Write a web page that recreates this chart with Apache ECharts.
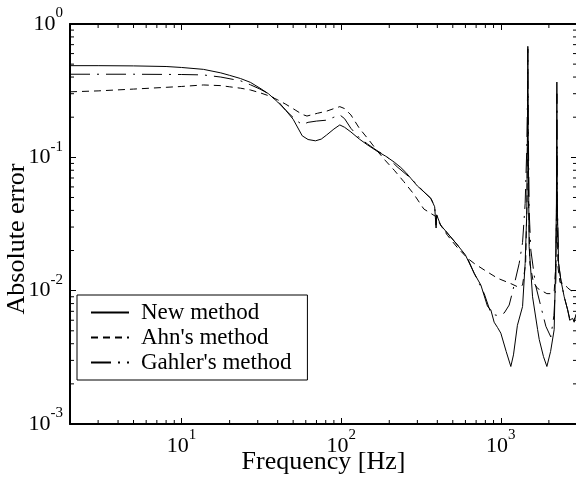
<!DOCTYPE html>
<html>
<head>
<meta charset="utf-8">
<script src="https://cdn.jsdelivr.net/npm/echarts@6/dist/echarts.min.js"></script>
<style>
  html, body { margin: 0; padding: 0; background: #fff; }
  #chart { width: 576px; height: 479px; }
</style>
</head>
<body>
<div id="chart"></div>
<script>
// 数据：频率 [Hz] 与绝对误差
const freqNew = [2, 3, 5, 8, 10, 13.7, 17.6, 20, 23.4, 27, 31, 35, 40, 45, 50, 57, 62, 69, 75, 81,
  90, 98, 105, 115, 130, 146, 170, 190, 215, 236, 254, 273, 300, 330, 364, 385, 391, 393, 396, 420,
  463, 535, 600, 681, 750, 826, 865, 908, 953, 1000, 1080, 1155, 1200, 1270, 1368, 1420, 1455, 1470, 1476, 1484,
  1504, 1580, 1700, 1740, 1850, 1943, 2050, 2158, 2200, 2230, 2244, 2256, 2300, 2377, 2494, 2620, 2700, 2817, 2880, 2950,
  3000]
const errNew = [0.487, 0.487, 0.485, 0.48, 0.472, 0.457, 0.43, 0.412, 0.39, 0.365, 0.33, 0.30, 0.26, 0.225, 0.193, 0.145, 0.136, 0.133, 0.137, 0.147,
  0.163, 0.175, 0.168, 0.155, 0.137, 0.124, 0.11, 0.102, 0.092, 0.084, 0.077, 0.0696, 0.061, 0.055, 0.0493, 0.0426, 0.0415, 0.0295, 0.037, 0.031,
  0.027, 0.022, 0.0185, 0.0135, 0.011, 0.0076, 0.0072, 0.0058, 0.0053, 0.0048, 0.0035, 0.0027, 0.0033, 0.0055, 0.0076, 0.016, 0.04, 0.2, 0.68, 0.15,
  0.0214, 0.009, 0.0051, 0.0043, 0.0032, 0.0027, 0.0035, 0.0051, 0.014, 0.045, 0.367, 0.045, 0.016, 0.012, 0.009, 0.0072, 0.006, 0.0062, 0.0058, 0.0066,
  0.0068]

const freqAhn = [2, 3, 5, 8, 10, 13.7, 17.6, 20, 23.4, 27, 31, 35, 40, 45, 52, 57, 61, 71, 81, 90,
  98, 105, 115, 130, 149, 170, 190, 215, 246, 285, 329, 364, 391, 420, 463, 535, 619, 681, 787, 953,
  1155, 1273, 1368, 1430, 1460, 1476, 1490, 1520, 1600, 1700, 1943, 2056, 2158, 2215, 2238, 2244, 2252, 2280, 2350, 2494,
  2620, 2817, 3000]
const errAhn = [0.31, 0.315, 0.325, 0.335, 0.34, 0.349, 0.345, 0.338, 0.33, 0.32, 0.305, 0.29, 0.27, 0.25, 0.225, 0.21, 0.204, 0.214, 0.222, 0.232,
  0.24, 0.232, 0.208, 0.165, 0.135, 0.11, 0.094, 0.08, 0.066, 0.053, 0.041, 0.038, 0.036, 0.031, 0.026, 0.021, 0.0175, 0.016, 0.0143, 0.0124,
  0.0113, 0.0107, 0.011, 0.016, 0.05, 0.3, 0.05, 0.016, 0.0115, 0.0104, 0.0095, 0.0095, 0.0098, 0.016, 0.05, 0.12, 0.04, 0.015, 0.0115, 0.0113,
  0.0105, 0.0098, 0.0098]

const freqGahler = [2, 5, 10, 13.7, 17.6, 23.4, 27, 31, 35, 40, 45, 52, 57, 62, 70, 81, 90, 98, 105, 115,
  130, 146, 170, 190, 224, 273, 300, 330, 364, 385, 391, 393, 396, 420, 463, 535, 619, 681, 787, 865,
  908, 960, 1050, 1128, 1184, 1303, 1368, 1420, 1455, 1470, 1476, 1484, 1504, 1541, 1650, 1782, 1915, 2056, 2150, 2212,
  2235, 2244, 2256, 2300, 2377, 2494, 2620, 2700, 2817, 2880, 2950, 3000]
const errGahler = [0.42, 0.42, 0.418, 0.415, 0.40, 0.375, 0.35, 0.325, 0.30, 0.265, 0.225, 0.19, 0.176, 0.183, 0.187, 0.19, 0.2, 0.208, 0.195, 0.165,
  0.14, 0.126, 0.111, 0.103, 0.085, 0.0696, 0.062, 0.055, 0.0493, 0.043, 0.0418, 0.031, 0.037, 0.031, 0.027, 0.022, 0.0175, 0.0135, 0.0095, 0.0068,
  0.0066, 0.0065, 0.0068, 0.0078, 0.0098, 0.016, 0.023, 0.045, 0.12, 0.3, 0.65, 0.2, 0.04, 0.0202, 0.011, 0.0076, 0.0054, 0.0045, 0.0065, 0.012,
  0.05, 0.3, 0.05, 0.016, 0.012, 0.009, 0.0072, 0.0062, 0.0063, 0.006, 0.0067, 0.0069]

// 次刻度（对数轴 2..9 倍）
const minorX = [3, 4, 5, 6, 7, 8, 9, 20, 30, 40, 50, 60, 70, 80, 90, 200, 300, 400, 500, 600, 700, 800, 900, 2000]
const minorY = [0.002, 0.003, 0.004, 0.005, 0.006, 0.007, 0.008, 0.009, 0.02, 0.03, 0.04, 0.05, 0.06, 0.07, 0.08, 0.09,
  0.2, 0.3, 0.4, 0.5, 0.6, 0.7, 0.8, 0.9]

const FONT = 'Liberation Serif'
const zip = (xs, ys) => xs.map((x, i) => [x, ys[i]])

function powLabel(v) {
  const e = Math.round(Math.log10(v))
  if (Math.abs(v - Math.pow(10, e)) / Math.pow(10, e) > 1e-6) return ''
  return '{b|10}{s|' + e + '}'
}

const labelRich = {
  b: { fontFamily: FONT, fontSize: 22, color: '#000' },
  s: { fontFamily: FONT, fontSize: 15, color: '#000', padding: [0, 0, 21, 0] },
}

const chart = echarts.init(document.getElementById('chart'), null, { renderer: 'canvas' })

function minorTickSeries(values, isX) {
  return {
    type: 'custom',
    silent: true,
    xAxisIndex: 0,
    yAxisIndex: 0,
    clip: false,
    data: values.map((v) => (isX ? [v, 0.001] : [2, v])),
    renderItem(params, api) {
      const style = { stroke: '#000', lineWidth: 1 }
      if (isX) {
        const b = api.coord([api.value(0), 0.001])
        const t = api.coord([api.value(0), 1])
        return {
          type: 'group',
          children: [
            { type: 'line', shape: { x1: b[0], y1: b[1], x2: b[0], y2: b[1] - 4 }, style },
            { type: 'line', shape: { x1: t[0], y1: t[1], x2: t[0], y2: t[1] + 4 }, style },
          ],
        }
      }
      const l = api.coord([2, api.value(1)])
      const r = api.coord([3000, api.value(1)])
      return {
        type: 'group',
        children: [
          { type: 'line', shape: { x1: l[0], y1: l[1], x2: l[0] + 4, y2: l[1] }, style },
          { type: 'line', shape: { x1: r[0], y1: r[1], x2: r[0] - 4, y2: r[1] }, style },
        ],
      }
    },
  }
}

const lineBase = {
  type: 'line',
  symbol: 'none',
  showSymbol: false,
  smooth: false,
  xAxisIndex: 0,
  yAxisIndex: 0,
}

const axisCommon = {
  type: 'log',
  logBase: 10,
  axisLine: { lineStyle: { color: '#000', width: 2 } },
  axisTick: { inside: true, length: 6, lineStyle: { color: '#000' } },
  splitLine: { show: false },
}

const option = {
  animation: false,
  backgroundColor: '#fff',
  grid: { left: 70, top: 24, width: 507, height: 400, outerBoundsMode: 'none', containLabel: false },
  legend: {
    data: ['New method', "Ahn's method", "Gahler's method"],
    orient: 'vertical',
    left: 77,
    top: 295,
    padding: [6, 16, 6, 13],
    itemWidth: 38,
    itemHeight: 23,
    itemGap: 2,
    backgroundColor: '#fff',
    borderColor: '#000',
    borderWidth: 1,
    itemStyle: { color: 'rgba(0,0,0,0)', borderWidth: 0 },
    textStyle: { fontFamily: FONT, fontSize: 23, color: '#000', lineHeight: 23, padding: [0, 0, 0, 7] },
  },
  xAxis: [
    {
      ...axisCommon,
      min: 2,
      max: 3000,
      name: 'Frequency [Hz]',
      nameLocation: 'middle',
      nameGap: 25,
      nameMoveOverlap: false,
      nameTextStyle: { fontFamily: FONT, fontSize: 26, color: '#000' },
      axisLabel: {
        formatter: powLabel,
        rich: labelRich,
        fontFamily: FONT,
        fontSize: 22,
        color: '#000',
        margin: 4,
        showMinLabel: false,
        showMaxLabel: false,
        hideOverlap: false,
      },
    },
    {
      ...axisCommon,
      min: 2,
      max: 3000,
      position: 'top',
      axisLabel: { show: false },
    },
  ],
  yAxis: [
    {
      ...axisCommon,
      min: 0.001,
      max: 1,
      name: 'Absolute error',
      nameLocation: 'middle',
      nameGap: 40,
      nameMoveOverlap: false,
      nameTextStyle: { fontFamily: FONT, fontSize: 26, color: '#000', padding: [0, 30, 0, 0] },
      axisLabel: {
        formatter: powLabel,
        rich: labelRich,
        fontFamily: FONT,
        fontSize: 22,
        color: '#000',
        margin: 7,
        hideOverlap: false,
      },
    },
    {
      ...axisCommon,
      min: 0.001,
      max: 1,
      position: 'right',
      axisLabel: { show: false },
    },
  ],
  series: [
    minorTickSeries(minorX, true),
    minorTickSeries(minorY, false),
    {
      ...lineBase,
      name: "Ahn's method",
      data: zip(freqAhn, errAhn),
      lineStyle: { color: '#000', width: 1, type: [7, 5] },
      itemStyle: { color: '#000' },
    },
    {
      ...lineBase,
      name: "Gahler's method",
      data: zip(freqGahler, errGahler),
      lineStyle: { color: '#000', width: 1, type: [20, 7, 2, 7] },
      itemStyle: { color: '#000' },
    },
    {
      ...lineBase,
      name: 'New method',
      data: zip(freqNew, errNew),
      lineStyle: { color: '#000', width: 1, type: 'solid' },
      itemStyle: { color: '#000' },
    },
  ],
}

chart.setOption(option)
</script>
</body>
</html>
